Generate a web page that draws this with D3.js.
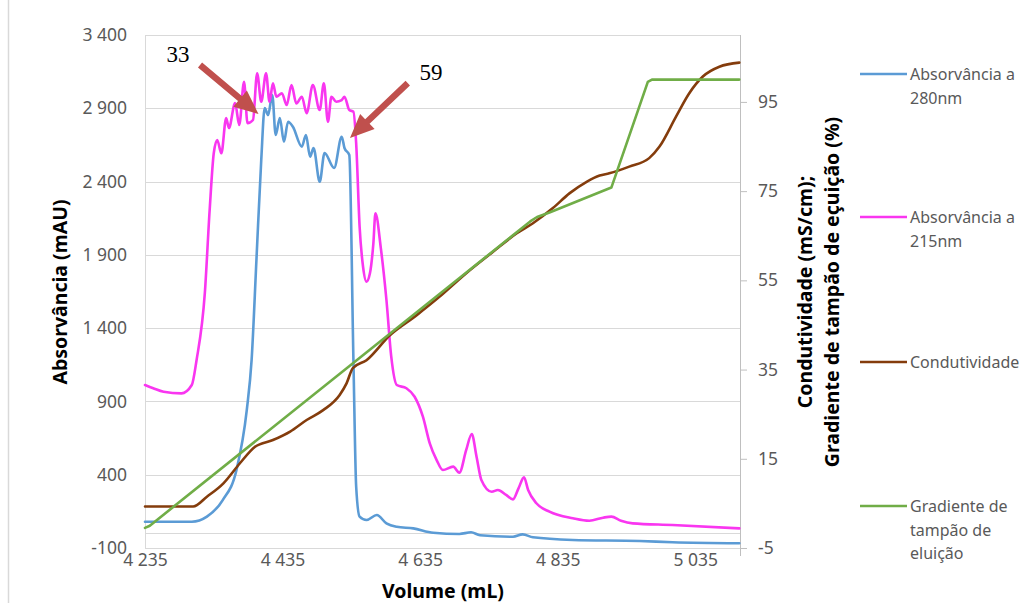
<!DOCTYPE html>
<html>
<head>
<meta charset="utf-8"/>
<title>Cromatograma</title>
<style>
  body, html {width:100%;height:100%;margin:0;overflow:hidden;background:#fff;font-family:"Noto Sans",sans-serif;}
  svg text {font-family:"Noto Sans",sans-serif;}
</style>
<script src="https://cdn.jsdelivr.net/npm/d3@7/dist/d3.min.js"></script>
</head>
<body>
<svg id="chart" width="1024" height="603"></svg>
<script>
// volume (mL), absorvancia 280 nm (mAU)
var abs280 = [
  [4235,79],[4303,79],[4325,114],[4348,227],[4368,432],[4383,842],[4390,1183],[4397,1865],
  [4404,2547],[4409,2902],[4414,2854],[4420,2991],[4425,2718],[4431,2834],[4437,2672],
  [4443,2808],[4450,2774],[4463,2638],[4469,2718],[4475,2570],[4480,2629],[4489,2399],
  [4496,2595],[4510,2493],[4521,2706],[4525,2629],[4532,2581],[4538,1183],[4542,318],
  [4547,114],[4557,91],[4572,125],[4586,68],[4601,45],[4625,34],[4654,4],[4692,-4],
  [4709,7],[4722,-13],[4770,-23],[4784,-7],[4799,-27],[4857,-45],[4954,-52],[5002,-61],[5099,-68]
];
// absorvancia 215 nm (mAU)
var abs215 = [
  [4235,1012],[4247,990],[4262,966],[4288,955],[4303,1012],[4310,1183],[4322,1640],[4329,2206],
  [4335,2595],[4340,2684],[4346,2593],[4353,2834],[4357,2765],[4366,2936],[4372,2786],[4379,3081],
  [4384,2798],[4392,2820],[4398,3139],[4404,2945],[4411,3139],[4416,2945],[4421,3070],[4426,2979],
  [4434,3002],[4441,2922],[4448,3059],[4455,2933],[4463,2979],[4470,2866],[4479,3059],[4489,2888],
  [4495,3070],[4501,2808],[4506,2979],[4513,2945],[4521,2956],[4525,2979],[4532,2888],[4538,2877],
  [4542,2661],[4547,2092],[4552,1819],[4557,1717],[4562,1774],[4567,1979],[4570,2183],[4578,1940],
  [4586,1592],[4593,1205],[4601,1012],[4615,990],[4627,932],[4639,796],[4649,614],[4659,500],
  [4668,432],[4683,455],[4692,414],[4702,569],[4710,678],[4717,523],[4724,364],[4739,284],
  [4748,296],[4760,262],[4770,232],[4778,307],[4786,382],[4792,296],[4804,205],[4823,148],
  [4857,103],[4881,86],[4901,107],[4913,114],[4927,86],[4944,68],[5002,57],[5099,34]
];
// condutividade (mS/cm)
var condut = [
  [4235,4.3],[4305,4.3],[4325,6.5],[4349,9.5],[4373,14.0],[4395,17.7],[4421,19.2],[4446,21.1],
  [4470,23.7],[4494,25.9],[4518,29.3],[4528,31.9],[4537,35.3],[4557,37.1],[4591,42.7],[4630,47.2],
  [4663,51.3],[4702,56.6],[4741,61.4],[4775,65.5],[4799,67.8],[4828,71.2],[4852,74.5],[4877,77.1],
  [4896,78.5],[4910,79.0],[4939,80.5],[4968,82.4],[4983,85.0],[5007,91.7],[5026,96.9],[5046,100.7],
  [5070,102.9],[5099,103.8]
];
// gradiente de tampao de eluicao (%)
var gradiente = [
  [4235,-0.5],[4242,0],[4795,68.2],[4805,69.2],[4823,70.2],[4913,75.8],[4966,99.5],[4972,100],[5099,100]
];

var xTicks = [4235, 4435, 4635, 4835, 5035];
var yLeftTicks = [-100, 400, 900, 1400, 1900, 2400, 2900, 3400];
var yRightTicks = [-5, 15, 35, 55, 75, 95];

// anotacoes: [texto, cauda(x,y), ponta(x,y), posicao do texto]
var setas = [
  {txt:"33", from:[4315,3195], to:[4400,2861], lab:[4283,3216], anchor:"middle"},
  {txt:"59", from:[4617,3072], to:[4533,2697], lab:[4634,3093], anchor:"start"}
];

var series = [
  {name:["Absorvância a","280nm"], data:abs280, axis:"L", color:"#5b9bd5", ly:74, curve:d3.curveMonotoneX},
  {name:["Absorvância a","215nm"], data:abs215, axis:"L", color:"#f936f0", ly:217, curve:d3.curveMonotoneX},
  {name:["Condutividade"], data:condut, axis:"R", color:"#843c0c", ly:362, curve:d3.curveMonotoneX},
  {name:["Gradiente de","tampão de","eluição"], data:gradiente, axis:"R", color:"#70ad47", ly:506, curve:d3.curveLinear}
];

var svg = d3.select("#chart");
var L = 145, R = 740, T = 35, B = 548;

var x = d3.scaleLinear().domain([4235, 5100]).range([L, R]);
var yL = d3.scaleLinear().domain([-100, 3400]).range([B, T]);
var yR = d3.scaleLinear().domain([-5, 110]).range([B, T]);

var pt = d3.formatLocale({decimal:",", thousands:" ", grouping:[3], currency:["",""], minus:"-"});
var fmt = pt.format(",d");

// borda da area do grafico
svg.append("line").attr("x1",8.5).attr("x2",8.5).attr("y1",0).attr("y2",603)
  .attr("stroke","#d9d9d9").attr("stroke-width",1.5);

// grelha
svg.append("g").selectAll("line").data(yLeftTicks).enter().append("line")
  .attr("x1",L).attr("x2",R)
  .attr("y1",function(d){return Math.round(yL(d))+0.5;})
  .attr("y2",function(d){return Math.round(yL(d))+0.5;})
  .attr("stroke","#d9d9d9").attr("stroke-width",1);
// linha do eixo em y=0
svg.append("line").attr("x1",L).attr("x2",R)
  .attr("y1",Math.round(yL(0))+0.5).attr("y2",Math.round(yL(0))+0.5)
  .attr("stroke","#d9d9d9");
svg.append("rect").attr("x",L+0.5).attr("y",T+0.5).attr("width",R-L).attr("height",B-T)
  .attr("fill","none").attr("stroke","#d9d9d9");

// eixo esquerdo
var gL = svg.append("g").attr("transform","translate("+L+",0)")
  .call(d3.axisLeft(yL).tickValues(yLeftTicks).tickFormat(fmt).tickSize(0).tickPadding(18));
gL.select(".domain").remove();
gL.selectAll("text").attr("fill","#595959").style("font-size","17.5px");

// eixo inferior
var gB = svg.append("g").attr("transform","translate(0,"+B+")")
  .call(d3.axisBottom(x).tickValues(xTicks).tickFormat(fmt).tickSize(0).tickPadding(6));
gB.select(".domain").remove();
gB.selectAll("text").attr("fill","#595959").style("font-size","17.5px");

// eixo direito
var gR = svg.append("g").attr("transform","translate("+R+",0)")
  .call(d3.axisRight(yR).tickValues(yRightTicks).tickFormat(pt.format("d")).tickSize(7).tickPadding(11).tickSizeOuter(0));
gR.select(".domain").attr("stroke","#bfbfbf").attr("d","M0.5,"+T+"V"+(B+8));
gR.selectAll(".tick line").attr("stroke","#bfbfbf");
gR.selectAll("text").attr("fill","#595959").style("font-size","17.5px");

// titulos
svg.append("text").attr("transform","translate(67,292) rotate(-90)")
  .attr("text-anchor","middle").style("font-size","19.5px").style("font-weight","bold")
  .text("Absorvância (mAU)");
svg.append("text").attr("x",443).attr("y",598).attr("text-anchor","middle")
  .style("font-size","19.5px").style("font-weight","bold").text("Volume (mL)");
svg.append("text").attr("transform","translate(812,292) rotate(-90)")
  .attr("text-anchor","middle").style("font-size","19.5px").style("font-weight","bold")
  .text("Condutividade (mS/cm);");
svg.append("text").attr("transform","translate(839,292) rotate(-90)")
  .attr("text-anchor","middle").style("font-size","19.5px").style("font-weight","bold")
  .text("Gradiente de tampão de eçuição (%)");

// curvas
var plot = svg.append("g");
series.forEach(function(s){
  var yy = s.axis === "L" ? yL : yR;
  var line = d3.line().x(function(d){return x(d[0]);}).y(function(d){return yy(d[1]);})
    .curve(s.curve);
  plot.append("path").datum(s.data).attr("d",line)
    .attr("fill","none").attr("stroke",s.color).attr("stroke-width",2.6)
    .attr("stroke-linejoin","round").attr("stroke-linecap","round");
});

// legenda
var lg = svg.append("g");
series.forEach(function(s){
  lg.append("line").attr("x1",860).attr("x2",907).attr("y1",s.ly).attr("y2",s.ly)
    .attr("stroke",s.color).attr("stroke-width",2.6);
  var t = lg.append("text").attr("x",910).attr("y",s.ly+6).attr("fill","#595959")
    .style("font-size","16px");
  s.name.forEach(function(n,i){
    t.append("tspan").attr("x",910).attr("dy",i===0?0:23.5).text(n);
  });
});

// setas
setas.forEach(function(a){
  var x0 = x(a.from[0]), y0 = yL(a.from[1]), x1 = x(a.to[0]), y1 = yL(a.to[1]);
  var dx = x1-x0, dy = y1-y0, len = Math.sqrt(dx*dx+dy*dy);
  var ux = dx/len, uy = dy/len, nx = -uy, ny = ux;
  var hl = 24, hw = 10.5, sw = 3.2;
  var bx = x1-ux*hl, by = y1-uy*hl;
  var pts = [
    [x0+nx*sw, y0+ny*sw],[bx+nx*sw, by+ny*sw],[bx+nx*hw, by+ny*hw],[x1,y1],
    [bx-nx*hw, by-ny*hw],[bx-nx*sw, by-ny*sw],[x0-nx*sw, y0-ny*sw]
  ];
  svg.append("polygon").attr("points",pts.map(function(p){return p.join(",");}).join(" "))
    .attr("fill","#c0504d");
  svg.append("text").attr("x",x(a.lab[0])).attr("y",yL(a.lab[1]))
    .attr("text-anchor",a.anchor).style("font-family","'Liberation Serif','Times New Roman',serif")
    .style("font-size","23px").attr("fill","#000").text(a.txt);
});
</script>
</body>
</html>
